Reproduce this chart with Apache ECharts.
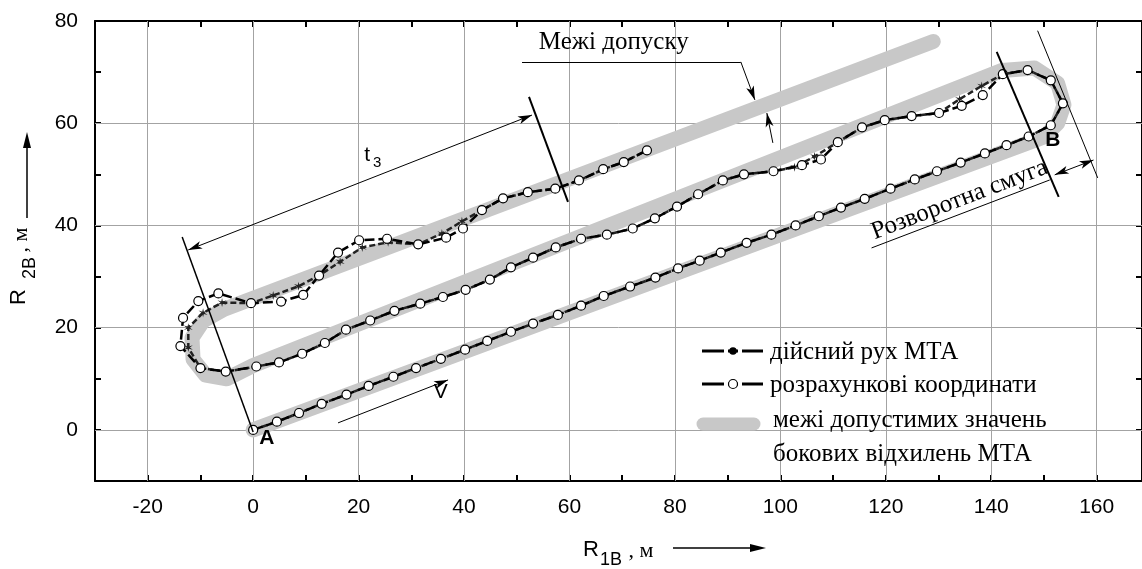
<!DOCTYPE html>
<html>
<head>
<meta charset="utf-8">
<script src="https://cdn.jsdelivr.net/npm/echarts@6/dist/echarts.min.js"></script>
<style>html,body{margin:0;padding:0;background:#fff}#c{width:1142px;height:569px}</style>
</head>
<body>
<div id="c"></div>
<script>
// ---------- data ----------
// computed coordinates (white circles), in path order from A
const calcX = [0,4.5,8.7,13,17.7,21.9,26.6,30.9,35.6,40.2,44.4,48.9,53.1,57.8,62.2,66.5,71.5,76.3,80.6,84.7,88.7,93.6,98.3,102.9,107.3,111.5,116,120.9,125.5,129.7,134.2,138.8,142.9,147.1,151.3,
  153.6,151.3,146.9,142.2,
  138.4,134.4,130.1,124.9,119.8,115.5,110.9,107.7,104.1,98.7,93.1,89.1,84.4,80.4,76.2,72,67.1,62.2,57.4,53.1,48.9,44.9,40.3,36,31.7,26.8,22.2,17.6,13.6,9.3,4.9,0.6,-5.2,-10,
  -13.8,-13.3,-10.4,-6.6,
  -0.4,5.3,9.5,12.5,16.1,20.1,25.4,31.3,36.6,39.8,43.4,47.4,52.1,57.3,61.8,66.4,70.3,74.7];
const calcY = [0,1.6,3.3,5.1,6.9,8.6,10.4,12.1,13.9,15.7,17.4,19.2,20.8,22.5,24.3,26.2,28.05,29.8,31.6,33.1,34.7,36.6,38.2,40,41.8,43.5,45.2,47.2,49,50.6,52.3,54.1,55.7,57.4,59.6,
  63.9,68.4,70.4,69.6,
  65.5,63.4,62,61.4,60.6,59.2,56.3,52.9,51.8,50.6,50,48.8,46.1,43.7,41.4,39.4,38.2,37.4,35.7,33.7,31.8,29.4,27.4,26,24.7,23.3,21.4,19.6,17,14.9,13.2,12.4,11.4,12.1,
  16.4,21.9,25.2,26.7,
  24.8,25.1,26.4,30.2,34.7,37.1,37.4,36.3,37.6,39.4,43,45.3,46.5,47.2,48.8,51,52.4,54.7];
// actual motion (asterisks)
const actX = [0,4.5,8.7,13,17.7,21.9,26.6,30.9,35.6,40.2,44.4,48.9,53.1,57.8,62.2,66.5,71.5,76.3,80.6,84.7,88.7,93.6,98.3,102.9,107.3,111.5,116,120.9,125.5,129.7,134.2,138.8,142.9,147.1,151.3,
  153.6,151.3,146.9,142.2,
  138.2,134,130.1,124.9,119.8,115.5,110.9,106.5,102.7,98.7,93.1,89.1,84.4,80.4,76.2,72,67.1,62.2,57.4,53.1,48.9,44.9,40.3,36,31.7,26.8,22.2,17.6,13.6,9.3,4.9,0.6,-5.2,-10,
  -12.3,-12.3,-9.5,-5.9,
  -0.4,3.8,8.6,12.5,16.5,20.7,25.6,31.3,35.8,39.6,43.4,47.4,52.1,57.3,61.8,66.4,70.3,74.7];
const actY = [0,1.6,3.3,5.1,6.9,8.6,10.4,12.1,13.9,15.7,17.4,19.2,20.8,22.5,24.3,26.2,28.05,29.8,31.6,33.1,34.7,36.6,38.2,40,41.8,43.5,45.2,47.2,49,50.6,52.3,54.1,55.7,57.4,59.6,
  63.9,68.4,70.4,69.6,
  67.3,64.7,62,61.4,60.6,59.2,56.3,53.5,51.4,50.6,50,48.8,46.1,43.7,41.4,39.4,38.2,37.4,35.7,33.7,31.8,29.4,27.4,26,24.7,23.3,21.4,19.6,17,14.9,13.2,12.4,11.4,12.1,
  16.1,20,22.9,24.9,
  24.8,26.3,28.1,30.2,32.9,35.7,36.7,36.3,38.4,40.8,43,45.3,46.5,47.2,48.8,51,52.4,54.7];
// tolerance band centre line
const bandX = [0,150,152.6,153.8,152.6,148.2,142,0,-5,-9,-11.4,-11.6,-9.5,-5.5,129];
const bandY = [0,57.3,60,63.6,67.8,70.8,70.3,12.6,10,10.7,13.8,18,21.3,23.6,76];
// axis ticks / grid
const xGridTicks = [-20,0,20,40,60,80,100,120,140,160];
const yGridTicks = [0,20,40,60];
const legendNames = ['дійсний рух МТА','розрахункові координати','межі допустимих значень','бокових відхилень МТА'];

// annotation segments (data units): [x1,y1,x2,y2,startSymbol,endSymbol]
const annoSegs = [
  [-13.46,37.76,0,-0.4,'none','none'],
  [-12.32,35.2,52.89,61.6,'arrow','arrow'],
  [52.32,65.15,59.72,44.6,'none','none'],
  [51.0,72.0,92.5,72.0,'none','none'],
  [92.5,72.0,95.17,64.56,'none','arrow'],
  [98.58,56.15,97.44,62.0,'none','arrow'],
  [141.04,73.96,152.8,45.6,'none','none'],
  [148.8,78.1,160.2,49.3,'none','none'],
  [152.04,49.9,159.4,52.8,'arrow','arrow'],
  [117.3,35.6,151.1,48.9,'none','none'],
  [16.1,1.37,36.97,9.78,'none','arrow']
];
const annoWidths = [1.5,1,2,1,1,1,2,1,1,1,1];
const annoTexts = [
  {t:'Межі допуску', x:68.4, y:75.9},
  {t:'Розворотна смуга', x:134.0, y:45.0, rot:20.9},
  {t:'B', x:151.7, y:56.7, bold:true, sans:true},
  {t:'A', x:2.6, y:-1.6, bold:true, sans:true},
  {t:'V', x:35.6, y:7.4, sans:true}
];

// ---------- chart ----------
const pair = (xs, ys) => xs.map((x, i) => [x, ys[i]]);
const chart = echarts.init(document.getElementById('c'));
const SANS = '"Liberation Sans", Arial, sans-serif';
const SERIF = '"Liberation Serif", "Times New Roman", serif';
const starPath = 'path://M5,0 L5.75,3.7 L9.33,2.5 L6.5,5 L9.33,7.5 L5.75,6.3 L5,10 L4.25,6.3 L0.67,7.5 L3.5,5 L0.67,2.5 L4.25,3.7 Z';
const xMin = -30, xMax = 168.6, yMin = -10, yMax = 80;

const axisLine = {show:true, onZero:false, lineStyle:{color:'#000', width:2}};
const axisTick = {show:true, inside:true, length:6, lineStyle:{color:'#000', width:2}};
const fmt20 = v => (Math.abs(v % 20) < 1e-6 ? String(v) : '');

chart.setOption({
  animation:false,
  backgroundColor:'#fff',
  grid:{left:95, top:21, right:-1, bottom:88},
  xAxis:[
    {type:'value', min:xMin, max:xMax, interval:10, position:'bottom', axisLine, axisTick,
     splitLine:{show:false},
     axisLabel:{show:true, margin:16, color:'#000', fontFamily:SANS, fontSize:21, formatter:fmt20, showMaxLabel:false}},
    {type:'value', min:xMin, max:xMax, interval:10, position:'top', axisLine, axisTick,
     splitLine:{show:false}, axisLabel:{show:false}}
  ],
  yAxis:[
    {type:'value', min:yMin, max:yMax, interval:10, position:'left', axisLine, axisTick,
     splitLine:{show:false},
     axisLabel:{show:true, margin:17, color:'#000', fontFamily:SANS, fontSize:21, formatter:fmt20}},
    {type:'value', min:yMin, max:yMax, interval:10, position:'right', axisLine, axisTick,
     splitLine:{show:false}, axisLabel:{show:false}}
  ],
  series:[
    {type:'line', data:[], silent:true, z:1,
     markLine:{silent:true, z:1, symbol:['none','none'], label:{show:false},
       lineStyle:{color:'#a3a3a3', width:1, type:'solid'},
       emphasis:{disabled:true},
       data: xGridTicks.map(v => ({xAxis:v})).concat(yGridTicks.map(v => ({yAxis:v})))}},
    {type:'line', data:pair(bandX, bandY), symbol:'none', silent:true, z:2,
     lineStyle:{color:'#c8c8c8', width:15, cap:'round', join:'round'}},
    {type:'line', data:pair(actX, actY), symbol:starPath, symbolSize:9, z:3, silent:true,
     itemStyle:{color:'#222'},
     lineStyle:{color:'#222', width:2.5, type:[6,3]}},
    {type:'line', data:pair(calcX, calcY), symbol:'circle', symbolSize:9, z:4, silent:true,
     itemStyle:{color:'#fff', borderColor:'#000', borderWidth:1.2},
     lineStyle:{color:'#000', width:2.5, type:[10,4]}},
    {type:'line', data:[], silent:true, z:6,
     markLine:{silent:true, z:6, label:{show:false}, emphasis:{disabled:true},
       data: annoSegs.map((s, i) => [
         {coord:[s[0], s[1]], symbol:s[4], symbolSize:[6,14], lineStyle:{color:'#000', width:annoWidths[i], type:'solid'}},
         {coord:[s[2], s[3]], symbol:s[5], symbolSize:[6,14]}
       ])}}
  ]
});

// ---------- text annotations & legend ----------
const px = (x, y) => chart.convertToPixel({gridIndex:0}, [x, y]);
const g = [];
function txt(x, y, text, font, opts) {
  opts = opts || {};
  return Object.assign({type:'text', x:x, y:y, silent:true, z:20,
    style:{text:text, font:font, fill:'#000', align:opts.align || 'center', textAlign:opts.align || 'center',
      verticalAlign:'middle', textVerticalAlign:'middle'}}, opts.el || {});
}
annoTexts.forEach(a => {
  const p = px(a.x, a.y);
  const font = (a.bold ? 'bold ' : '') + (a.sans ? '21px ' + SANS : '25px ' + SERIF);
  g.push(txt(p[0], p[1], a.t, font, {el: a.rot ? {rotation: a.rot * Math.PI / 180} : {}}));
});
// t3 label
const pt = px(22.2, 53.8);
g.push(txt(pt[0] - 3, pt[1], 't', '21px ' + SANS));
g.push(txt(pt[0] + 7, pt[1] + 8, '3', '15px ' + SANS));

// axis names
g.push(txt(591, 550, 'R', '22px ' + SANS));
g.push(txt(611, 560, '1B', '18px ' + SANS));
g.push(txt(641, 551, ', м', '22px ' + SERIF));
g.push({type:'line', silent:true, shape:{x1:673, y1:548, x2:752, y2:548}, style:{stroke:'#000', lineWidth:1.5}});
g.push({type:'polygon', silent:true, shape:{points:[[750,544],[766,548],[750,552]]}, style:{fill:'#000'}});

const rot = {rotation: Math.PI / 2};
g.push(txt(19, 297, 'R', '22px ' + SANS, {el:rot}));
g.push(txt(30, 268, '2B', '18px ' + SANS, {el:rot}));
g.push(txt(21, 240, ', м', '22px ' + SERIF, {el:rot}));
g.push({type:'line', silent:true, shape:{x1:27, y1:218, x2:27, y2:146}, style:{stroke:'#000', lineWidth:1.5}});
g.push({type:'polygon', silent:true, shape:{points:[[23,148],[27,132],[31,148]]}, style:{fill:'#000'}});

// legend
const L = {x1:702, x2:763, mid:733};
[[351,'dot'],[384,'circle']].forEach((r, i) => {
  g.push({type:'line', silent:true, z:20, shape:{x1:L.x1, y1:r[0], x2:L.mid - 9, y2:r[0]}, style:{stroke:'#000', lineWidth:3}});
  g.push({type:'line', silent:true, z:20, shape:{x1:L.mid + 9, y1:r[0], x2:L.x2, y2:r[0]}, style:{stroke:'#000', lineWidth:3}});
  g.push({type:'line', silent:true, z:20, shape:{x1:L.mid - 5, y1:r[0], x2:L.mid + 5, y2:r[0]}, style:{stroke:'#000', lineWidth:3}});
  if (r[1] === 'dot') g.push({type:'circle', silent:true, z:21, shape:{cx:L.mid, cy:r[0], r:3.8}, style:{fill:'#000'}});
  else g.push({type:'circle', silent:true, z:21, shape:{cx:L.mid, cy:r[0], r:4.5}, style:{fill:'#fff', stroke:'#000', lineWidth:1.2}});
  g.push(txt(770, r[0] + 1, legendNames[i], '25px ' + SERIF, {align:'left'}));
});
g.push({type:'line', silent:true, z:20, shape:{x1:703, y1:424, x2:754, y2:424}, style:{stroke:'#c8c8c8', lineWidth:13, lineCap:'round'}});
g.push(txt(773, 420, legendNames[2], '25px ' + SERIF, {align:'left'}));
g.push(txt(773, 454, legendNames[3], '25px ' + SERIF, {align:'left'}));

chart.setOption({graphic:{elements:g}});
</script>
</body>
</html>
